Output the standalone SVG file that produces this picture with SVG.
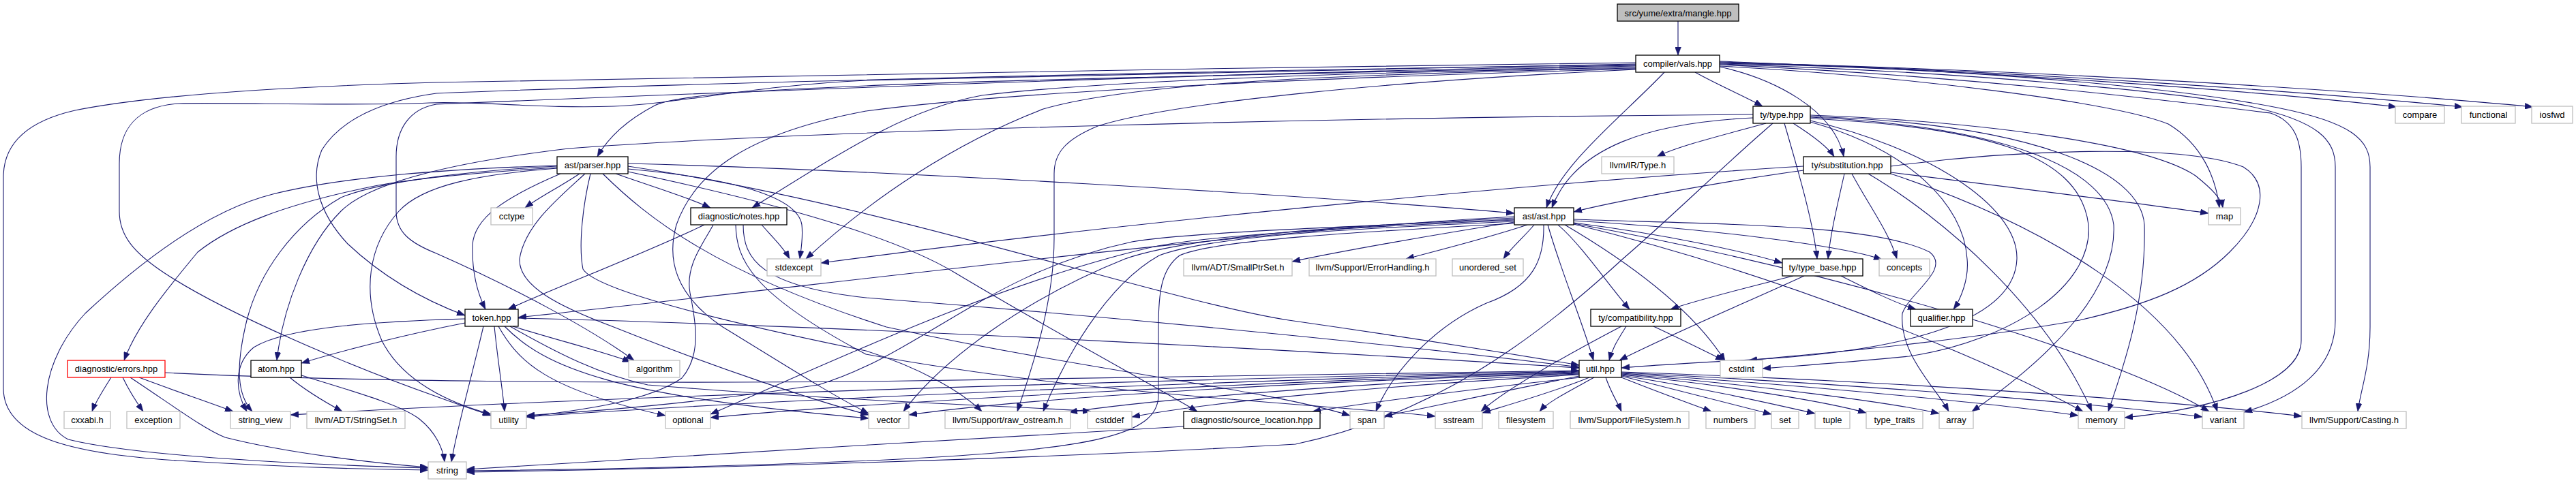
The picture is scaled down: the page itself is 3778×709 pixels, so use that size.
<svg xmlns="http://www.w3.org/2000/svg" width="3778" height="709" viewBox="0 0 3778 709">
<style>
.e{fill:none;stroke:#191970;stroke-width:1.1;marker-end:url(#ah)}
.n rect{fill:#fff;stroke:#bfbfbf;stroke-width:1.3}
.d rect{stroke:#000}
.r rect{stroke:#ff0000}
.root rect{fill:#bfbfbf;stroke:#000}
.n text{font-family:"Liberation Sans",Arial,Helvetica,sans-serif;font-size:13px;text-anchor:middle;fill:#000}
</style>
<defs>
<marker id="ah" markerWidth="12" markerHeight="9" viewBox="0 0 12 9" refX="12" refY="4.5" orient="auto" markerUnits="userSpaceOnUse">
<path d="M0,0 L12,4.5 L0,9 z" fill="#191970" stroke="#191970" stroke-width="0.5"/>
</marker>
</defs>
<rect width="3778" height="709" fill="#fff"/>
<g id="edges">
<path class="e" d="M2461,31 C2461,50 2461,62 2461,81"/>
<path class="e" d="M2399,92 C1800,100 1000,112 640,121 C420,127 220,140 110,162 C40,178 5,210 5,260 L5,570 C5,640 100,666 260,676 C420,686 540,689 628,690"/>
<path class="e" d="M2399,94 C2000,102 1550,110 1270,118 C1100,126 1000,152 900,156 C800,160 700,148 630,151 C520,156 330,150 262,152 C200,156 175,190 175,240 L175,310 C175,345 195,370 240,400 C330,460 520,540 640,582 C675,595 700,603 720,610"/>
<path class="e" d="M2399,95 C1800,103 1000,122 640,137 C560,148 500,175 472,220 C455,260 465,310 510,358 C560,405 620,440 682,463"/>
<path class="e" d="M2399,96 C1800,106 1000,138 640,153 C600,160 581,190 581,230 L581,310 C581,340 600,356 640,372 C760,425 870,485 930,529"/>
<path class="e" d="M2399,97 C2000,106 1500,116 1270,126 C1100,133 990,140 960,155 C920,176 892,202 876,230"/>
<path class="e" d="M2399,99 C2000,106 1620,118 1440,140 C1330,160 1240,220 1103,305"/>
<path class="e" d="M2399,100 C1900,110 1650,125 1530,160 C1400,210 1280,290 1182,380"/>
<path class="e" d="M2399,101 C1900,115 1480,135 1270,163 C1100,195 1020,250 992,330 C975,390 1000,440 1060,480 C1150,535 1220,580 1274,607"/>
<path class="e" d="M2399,102 C2050,118 1720,150 1610,185 C1562,205 1546,225 1546,255 L1546,350 C1546,450 1510,550 1492,604"/>
<path class="e" d="M2441,106 C2380,170 2290,240 2268,305"/>
<path class="e" d="M2486,106 C2520,125 2560,142 2585,156"/>
<path class="e" d="M2522,98 C2600,115 2690,160 2704,230"/>
<path class="e" d="M2522,90 C2900,104 3300,132 3515,157"/>
<path class="e" d="M2522,91 C2950,103 3400,136 3612,157"/>
<path class="e" d="M2522,92 C3000,102 3500,136 3715,157"/>
<path class="e" d="M2522,93 C2900,100 3200,130 3340,158 C3450,180 3476,205 3476,245 L3476,480 C3476,540 3462,572 3458,604"/>
<path class="e" d="M2522,94 C2900,106 3200,136 3300,156 C3400,178 3425,205 3425,245 L3425,470 C3425,540 3370,582 3291,605"/>
<path class="e" d="M2522,95 C2900,112 3200,150 3330,166 C3365,178 3375,205 3375,245 L3375,500 C3375,560 3250,600 3116,613"/>
<path class="e" d="M2522,97 C2800,112 3100,150 3180,182 C3230,212 3250,262 3255,305"/>
<path class="e" d="M921,240 C1300,250 1900,285 2221,313"/>
<path class="e" d="M817,246 C720,252 600,262 540,275 C420,300 340,330 290,370 C240,430 200,480 182,529"/>
<path class="e" d="M817,243 C650,248 500,260 400,285 C300,310 200,390 125,460 C60,530 50,620 100,645 C200,670 450,682 628,687"/>
<path class="e" d="M817,244 C700,250 560,265 500,290 C430,330 380,400 362,470 C345,540 348,580 370,604"/>
<path class="e" d="M817,247 C700,256 620,272 585,310 C540,360 530,430 560,500 C590,560 660,592 720,608"/>
<path class="e" d="M822,255 C740,290 695,320 693,360 C692,400 700,430 712,454"/>
<path class="e" d="M850,255 C820,275 790,290 770,305"/>
<path class="e" d="M903,255 C960,275 1010,290 1042,305"/>
<path class="e" d="M921,248 C1080,262 1170,290 1176,330 C1178,350 1175,365 1173,380"/>
<path class="e" d="M858,255 C820,290 770,330 762,380 C760,420 820,450 900,480 C1050,540 1200,590 1274,609"/>
<path class="e" d="M866,255 C855,300 848,360 855,395 C870,420 1000,460 1270,515 C1350,540 1410,575 1440,604"/>
<path class="e" d="M884,255 C950,320 1050,400 1300,480 C1600,545 1850,570 1980,610"/>
<path class="e" d="M921,244 C1300,300 1700,440 1890,470 C2100,500 2250,525 2316,536"/>
<path class="e" d="M921,252 C1100,290 1300,340 1400,400 C1550,490 1700,570 1756,604"/>
<path class="e" d="M1033,330 C950,370 820,420 745,454"/>
<path class="e" d="M1046,330 C1030,360 1005,390 1012,430 C1020,470 1030,520 1000,555 C950,590 850,602 772,612"/>
<path class="e" d="M1117,330 C1135,350 1150,365 1158,380"/>
<path class="e" d="M1090,330 C1090,380 1115,420 1270,437 C1700,470 2100,512 2316,539"/>
<path class="e" d="M1079,330 C1080,380 1100,430 1270,520 C1600,580 1900,590 2105,611"/>
<path class="e" d="M682,474 C600,490 500,515 442,533"/>
<path class="e" d="M682,468 C550,472 420,480 372,510 C342,535 345,575 362,604"/>
<path class="e" d="M709,479 C690,560 670,630 662,678"/>
<path class="e" d="M725,479 C730,530 737,570 740,604"/>
<path class="e" d="M731,479 C760,530 800,572 976,610"/>
<path class="e" d="M752,479 C820,500 880,515 925,531"/>
<path class="e" d="M760,467 C1300,480 2000,520 2316,540"/>
<path class="e" d="M740,479 C800,540 900,582 1274,614"/>
<path class="e" d="M748,479 C820,520 880,550 950,565 C1250,590 1500,596 1600,604"/>
<path class="e" d="M2221,318 C1800,340 1200,420 760,466"/>
<path class="e" d="M2221,326 C2100,345 1960,370 1895,384"/>
<path class="e" d="M2240,330 C2180,350 2100,370 2062,380"/>
<path class="e" d="M2250,330 C2235,348 2215,365 2205,380"/>
<path class="e" d="M2308,327 C2450,345 2560,370 2614,386"/>
<path class="e" d="M2308,324 C2500,335 2700,360 2760,381"/>
<path class="e" d="M2285,330 C2320,360 2360,420 2390,454"/>
<path class="e" d="M2270,330 C2290,400 2320,470 2337,529"/>
<path class="e" d="M2295,330 C2380,380 2480,450 2530,530"/>
<path class="e" d="M2308,329 C2600,400 2900,520 3055,604"/>
<path class="e" d="M2308,328 C2700,400 3100,520 3240,604"/>
<path class="e" d="M2264,330 C2265,380 2250,420 2180,445 C2100,480 2040,550 2018,604"/>
<path class="e" d="M2221,328 C2000,340 1780,352 1730,375 C1703,395 1699,430 1699,480 L1699,580 C1699,640 1600,660 1300,675 C1000,688 800,690 684,691"/>
<path class="e" d="M2221,320 C2000,330 1750,345 1650,380 C1500,440 1380,530 1325,604"/>
<path class="e" d="M2221,322 C2000,332 1750,340 1660,355 C1450,400 1350,520 1200,565 C1000,595 850,605 772,610"/>
<path class="e" d="M2221,323 C2000,333 1760,345 1680,365 C1450,420 1200,540 1042,608"/>
<path class="e" d="M2221,325 C2000,335 1780,345 1700,375 C1620,420 1560,530 1530,604"/>
<path class="e" d="M2308,322 C2550,330 2750,330 2830,370 C2862,395 2800,430 2790,460 C2785,520 2840,570 2858,604"/>
<path class="e" d="M2571,168 C2000,172 1200,190 834,218 C650,240 540,270 500,310 C450,360 415,450 406,529"/>
<path class="e" d="M2571,173 C2420,180 2310,215 2276,305"/>
<path class="e" d="M2590,181 C2520,200 2460,215 2430,230"/>
<path class="e" d="M2630,181 C2660,200 2680,215 2690,230"/>
<path class="e" d="M2600,181 C2520,250 2450,320 2380,380 C2250,500 2100,610 1900,652 C1500,675 1000,688 684,693"/>
<path class="e" d="M2655,169 C2900,178 3150,210 3220,258 C3245,278 3258,292 3260,305"/>
<path class="e" d="M2617,181 C2640,260 2660,330 2665,380"/>
<path class="e" d="M2655,179 C2800,220 2880,300 2885,380 C2888,410 2875,440 2865,454"/>
<path class="e" d="M2655,174 C2900,186 3050,222 3063,330 C3070,420 2950,500 2800,523 C2700,533 2620,538 2585,541"/>
<path class="e" d="M2655,172 C2950,186 3090,250 3100,330 C3105,430 3000,530 2892,604"/>
<path class="e" d="M2655,171 C2980,181 3140,250 3145,330 C3148,450 3110,550 3092,604"/>
<path class="e" d="M2655,177 C2820,215 2960,300 2958,380 C2955,470 2800,512 2600,526 C2500,532 2420,536 2378,540"/>
<path class="e" d="M2645,250 C2500,270 2350,300 2308,311"/>
<path class="e" d="M2705,255 C2695,300 2685,340 2681,380"/>
<path class="e" d="M2716,255 C2740,300 2770,340 2782,380"/>
<path class="e" d="M2773,253 C2950,275 3150,300 3239,313"/>
<path class="e" d="M2773,244 C2950,220 3200,210 3290,245 C3330,270 3320,320 3270,370 C3220,420 3150,447 3050,470 C2850,505 2650,520 2565,529"/>
<path class="e" d="M2773,255 C3000,330 3200,450 3252,604"/>
<path class="e" d="M2645,244 C2300,265 1700,320 1204,386"/>
<path class="e" d="M2740,255 C2850,320 3000,450 3068,604"/>
<path class="e" d="M2385,479 C2375,495 2365,510 2360,529"/>
<path class="e" d="M2378,479 C2300,520 2210,570 2172,604"/>
<path class="e" d="M2425,479 C2470,500 2510,520 2528,529"/>
<path class="e" d="M2700,405 C2740,425 2780,445 2810,454"/>
<path class="e" d="M2630,405 C2570,420 2490,440 2450,454"/>
<path class="e" d="M2646,405 C2570,440 2430,500 2375,529"/>
<path class="e" d="M163,554 C150,575 140,590 135,604"/>
<path class="e" d="M180,554 C190,575 200,590 210,604"/>
<path class="e" d="M204,554 C260,575 310,592 342,604"/>
<path class="e" d="M191,554 C260,600 300,630 330,642 C420,665 550,680 628,686"/>
<path class="e" d="M242,547 C500,560 900,563 1270,560 C1700,552 2100,546 2316,544"/>
<path class="e" d="M425,554 C450,575 480,592 502,604"/>
<path class="e" d="M442,551 C520,575 590,595 615,615 C640,635 650,660 652,678"/>
<path class="e" d="M1736,626 C1400,645 1000,670 684,689"/>
<path class="e" d="M2316,545 C1800,555 900,580 426,609"/>
<path class="e" d="M2316,546 C1800,558 1100,588 772,612"/>
<path class="e" d="M2316,547 C1900,558 1300,588 1042,613"/>
<path class="e" d="M2316,548 C1900,560 1500,585 1333,609"/>
<path class="e" d="M2316,549 C2000,562 1700,585 1568,605"/>
<path class="e" d="M2316,550 C2100,562 1800,585 1660,612"/>
<path class="e" d="M2318,554 C2150,572 2000,592 1925,604"/>
<path class="e" d="M2316,552 C2200,575 2100,597 2030,611"/>
<path class="e" d="M2331,554 C2280,575 2220,592 2174,606"/>
<path class="e" d="M2338,554 C2300,575 2270,590 2258,604"/>
<path class="e" d="M2355,554 C2362,575 2372,590 2378,604"/>
<path class="e" d="M2378,554 C2430,575 2480,593 2510,604"/>
<path class="e" d="M2378,552 C2470,575 2550,596 2598,608"/>
<path class="e" d="M2378,551 C2500,570 2600,593 2662,607"/>
<path class="e" d="M2378,550 C2530,565 2680,590 2737,606"/>
<path class="e" d="M2378,549 C2580,565 2780,592 2844,607"/>
<path class="e" d="M2378,548 C2650,565 2950,595 3048,610"/>
<path class="e" d="M2378,547 C2750,565 3100,595 3230,612"/>
<path class="e" d="M2378,546 C2800,560 3200,590 3376,611"/>
</g>
<g id="n_mangle" class="n root"><rect x="2372" y="6" width="178" height="25"/><text x="2461" y="23.5">src/yume/extra/mangle.hpp</text></g>
<g id="n_vals" class="n d"><rect x="2399" y="81" width="123" height="25"/><text x="2460.5" y="98">compiler/vals.hpp</text></g>
<g id="n_type" class="n d"><rect x="2571" y="156" width="84" height="25"/><text x="2613" y="173">ty/type.hpp</text></g>
<g id="n_compare" class="n"><rect x="3513" y="156" width="72" height="25"/><text x="3549" y="173">compare</text></g>
<g id="n_functional" class="n"><rect x="3610" y="156" width="79" height="25"/><text x="3649.5" y="173">functional</text></g>
<g id="n_iosfwd" class="n"><rect x="3713" y="156" width="60" height="25"/><text x="3743" y="173">iosfwd</text></g>
<g id="n_parser" class="n d"><rect x="817" y="230" width="104" height="25"/><text x="869" y="247">ast/parser.hpp</text></g>
<g id="n_irtype" class="n"><rect x="2349" y="230" width="106" height="25"/><text x="2402" y="247">llvm/IR/Type.h</text></g>
<g id="n_subst" class="n d"><rect x="2645" y="230" width="128" height="25"/><text x="2709" y="247">ty/substitution.hpp</text></g>
<g id="n_cctype" class="n"><rect x="720" y="305" width="61" height="25"/><text x="750.5" y="322">cctype</text></g>
<g id="n_notes" class="n d"><rect x="1013" y="305" width="141" height="25"/><text x="1083.5" y="322">diagnostic/notes.hpp</text></g>
<g id="n_ast" class="n d"><rect x="2221" y="305" width="87" height="25"/><text x="2264.5" y="322">ast/ast.hpp</text></g>
<g id="n_map" class="n"><rect x="3239" y="305" width="47" height="25"/><text x="3262.5" y="322">map</text></g>
<g id="n_stdexcept" class="n"><rect x="1125" y="380" width="79" height="25"/><text x="1164.5" y="397">stdexcept</text></g>
<g id="n_smallptr" class="n"><rect x="1736" y="380" width="159" height="25"/><text x="1815.5" y="397">llvm/ADT/SmallPtrSet.h</text></g>
<g id="n_errh" class="n"><rect x="1920" y="380" width="186" height="25"/><text x="2013" y="397">llvm/Support/ErrorHandling.h</text></g>
<g id="n_uset" class="n"><rect x="2130" y="380" width="104" height="25"/><text x="2182" y="397">unordered_set</text></g>
<g id="n_tbase" class="n d"><rect x="2614" y="380" width="118" height="25"/><text x="2673" y="397">ty/type_base.hpp</text></g>
<g id="n_concepts" class="n"><rect x="2756" y="380" width="74" height="25"/><text x="2793" y="397">concepts</text></g>
<g id="n_token" class="n d"><rect x="682" y="454" width="78" height="25"/><text x="721" y="471">token.hpp</text></g>
<g id="n_compat" class="n d"><rect x="2333" y="454" width="132" height="25"/><text x="2399" y="471">ty/compatibility.hpp</text></g>
<g id="n_qual" class="n d"><rect x="2802" y="454" width="91" height="25"/><text x="2847.5" y="471">qualifier.hpp</text></g>
<g id="n_errors" class="n r"><rect x="99" y="529" width="143" height="25"/><text x="170.5" y="546">diagnostic/errors.hpp</text></g>
<g id="n_atom" class="n d"><rect x="368" y="529" width="74" height="25"/><text x="405" y="546">atom.hpp</text></g>
<g id="n_algorithm" class="n"><rect x="922" y="529" width="75" height="25"/><text x="959.5" y="546">algorithm</text></g>
<g id="n_util" class="n d"><rect x="2316" y="529" width="62" height="25"/><text x="2347" y="546">util.hpp</text></g>
<g id="n_cstdint" class="n"><rect x="2523" y="529" width="62" height="25"/><text x="2554" y="546">cstdint</text></g>
<g id="n_cxxabi" class="n"><rect x="94" y="604" width="68" height="25"/><text x="128" y="621">cxxabi.h</text></g>
<g id="n_exception" class="n"><rect x="186" y="604" width="78" height="25"/><text x="225" y="621">exception</text></g>
<g id="n_sview" class="n"><rect x="338" y="604" width="88" height="25"/><text x="382" y="621">string_view</text></g>
<g id="n_sset" class="n"><rect x="450" y="604" width="144" height="25"/><text x="522" y="621">llvm/ADT/StringSet.h</text></g>
<g id="n_utility" class="n"><rect x="720" y="604" width="52" height="25"/><text x="746" y="621">utility</text></g>
<g id="n_optional" class="n"><rect x="976" y="604" width="66" height="25"/><text x="1009" y="621">optional</text></g>
<g id="n_vector" class="n"><rect x="1274" y="604" width="59" height="25"/><text x="1303.5" y="621">vector</text></g>
<g id="n_raw" class="n"><rect x="1386" y="604" width="184" height="25"/><text x="1478" y="621">llvm/Support/raw_ostream.h</text></g>
<g id="n_cstddef" class="n"><rect x="1595" y="604" width="65" height="25"/><text x="1627.5" y="621">cstddef</text></g>
<g id="n_srcloc" class="n d"><rect x="1736" y="604" width="200" height="25"/><text x="1836" y="621">diagnostic/source_location.hpp</text></g>
<g id="n_span" class="n"><rect x="1980" y="604" width="50" height="25"/><text x="2005" y="621">span</text></g>
<g id="n_sstream" class="n"><rect x="2105" y="604" width="69" height="25"/><text x="2139.5" y="621">sstream</text></g>
<g id="n_fs" class="n"><rect x="2198" y="604" width="80" height="25"/><text x="2238" y="621">filesystem</text></g>
<g id="n_fsh" class="n"><rect x="2303" y="604" width="174" height="25"/><text x="2390" y="621">llvm/Support/FileSystem.h</text></g>
<g id="n_numbers" class="n"><rect x="2502" y="604" width="72" height="25"/><text x="2538" y="621">numbers</text></g>
<g id="n_set" class="n"><rect x="2598" y="604" width="40" height="25"/><text x="2618" y="621">set</text></g>
<g id="n_tuple" class="n"><rect x="2662" y="604" width="51" height="25"/><text x="2687.5" y="621">tuple</text></g>
<g id="n_ttraits" class="n"><rect x="2737" y="604" width="83" height="25"/><text x="2778.5" y="621">type_traits</text></g>
<g id="n_array" class="n"><rect x="2844" y="604" width="50" height="25"/><text x="2869" y="621">array</text></g>
<g id="n_memory" class="n"><rect x="3048" y="604" width="68" height="25"/><text x="3082" y="621">memory</text></g>
<g id="n_variant" class="n"><rect x="3230" y="604" width="61" height="25"/><text x="3260.5" y="621">variant</text></g>
<g id="n_casting" class="n"><rect x="3376" y="604" width="153" height="25"/><text x="3452.5" y="621">llvm/Support/Casting.h</text></g>
<g id="n_string" class="n"><rect x="628" y="678" width="56" height="25"/><text x="656" y="695">string</text></g>
</svg>
